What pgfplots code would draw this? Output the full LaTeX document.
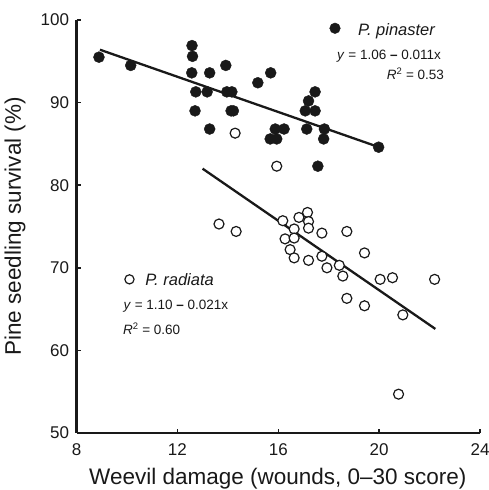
\documentclass[border=0pt]{standalone}
\usepackage{fontspec}
\setmainfont{Liberation Sans}
\usepackage{pgfplots}
\pgfplotsset{compat=1.18}
\begin{document}
\begin{tikzpicture}
\begin{axis}[name=ax, scale only axis, width=403.5pt, height=413pt,
 xmin=8, xmax=24, ymin=50, ymax=100,
 xtick={8,12,16,20,24}, ytick={50,60,...,100},
 axis lines*=left, axis line style={line width=2.6pt,-,black!90},
 tick align=inside, major tick length=4pt, tick style={line width=1.5pt,black!90},
 /pgf/number format/assume math mode=true,
 tick label style={font=\fontsize{17}{17}\selectfont, black!90},
 xticklabel style={yshift=-7pt},
 yticklabel style={xshift=-4pt},
 xlabel={Weevil damage (wounds, 0–30 score)},
 ylabel={Pine seedling survival (\%)},
 every axis x label/.style={at={(axis description cs:0.499,-0.11)}, anchor=center, font=\fontsize{22.5}{22.5}\selectfont, black!90},
 every axis y label/.style={at={(axis description cs:-0.152,0.5)}, rotate=90, anchor=center, font=\fontsize{22.5}{22.5}\selectfont, black!90},
 clip=false]
% regression lines
\addplot[line width=2.3pt, black!90, no marks] coordinates {(8.93,96.4) (20.0,84.6)};
\addplot[line width=2.3pt, black!90, no marks] coordinates {(13.0,82.0) (22.23,62.6)};
% P. pinaster
\addplot[only marks, mark=*, mark size=5.5pt, mark options={fill=black!90, draw=black!90}] coordinates {
(8.89,95.5) (10.15,94.5) (12.58,96.9) (12.6,95.6) (12.57,93.6) (13.28,93.6)
(13.92,94.5) (12.73,91.3) (13.18,91.3) (13.96,91.3) (14.16,91.3) (12.7,89.0)
(14.13,89.0) (14.22,89.0) (13.28,86.8) (15.19,92.4) (15.7,93.6) (15.68,85.6)
(15.94,85.6) (15.88,86.8) (16.23,86.8) (17.46,91.3) (17.2,90.2) (17.07,89.0)
(17.46,89.0) (17.13,86.8) (17.83,86.8) (17.8,85.6) (17.57,82.3) (19.98,84.6)
};
% P. radiata
\addplot[only marks, mark=*, mark size=5pt, mark options={fill=white, draw=black!90, line width=1.2pt}] coordinates {
(14.29,86.3) (15.94,82.3) (13.65,75.3) (14.33,74.4) (16.18,75.7) (16.82,76.1)
(17.16,76.7) (17.2,75.6) (17.2,74.8) (16.63,74.7) (16.27,73.5) (16.63,73.6)
(16.47,72.2) (16.63,71.2) (17.2,70.9) (17.73,74.2) (18.72,74.4) (17.73,71.4)
(17.93,70.0) (18.42,70.3) (18.56,69.0) (19.42,71.8) (18.72,66.3) (19.42,65.4)
(20.04,68.6) (20.53,68.8) (22.2,68.6) (20.94,64.3) (20.77,54.7)
};
% legend markers
\addplot[only marks, mark=*, mark size=5.3pt, mark options={fill=black!90, draw=black!90}] coordinates {(18.25,99.0)};
\addplot[only marks, mark=*, mark size=4.6pt, mark options={fill=white, draw=black!90, line width=1.2pt}] coordinates {(10.1,68.6)};
% annotations
\node[anchor=base west, inner sep=0pt, font=\fontsize{16.5}{16.5}\selectfont\itshape, black!90] at (axis cs:19.16,98.18) {P. pinaster};
\node[anchor=base west, inner sep=0pt, font=\fontsize{13.5}{13.5}\selectfont, black!90] at (axis cs:18.33,95.24) {\textit{y} = 1.06 \textbf{–} 0.011x};
\node[anchor=base east, inner sep=0pt, font=\fontsize{13.5}{13.5}\selectfont, black!90] at (axis cs:22.58,92.74) {\textit{R}\textsuperscript{2} = 0.53};
\node[anchor=base west, inner sep=0pt, font=\fontsize{16.5}{16.5}\selectfont\itshape, black!90] at (axis cs:10.72,67.9) {P. radiata};
\node[anchor=base west, inner sep=0pt, font=\fontsize{13.5}{13.5}\selectfont, black!90] at (axis cs:9.86,65.0) {\textit{y} = 1.10 \textbf{–} 0.021x};
\node[anchor=base west, inner sep=0pt, font=\fontsize{13.5}{13.5}\selectfont, black!90] at (axis cs:9.84,61.9) {\textit{R}\textsuperscript{2} = 0.60};
\end{axis}
\pgfresetboundingbox
\path[use as bounding box] ([xshift=-76.5pt,yshift=-57pt]ax.south west) rectangle ([xshift=8pt,yshift=20pt]ax.north east);
\end{tikzpicture}
\end{document}
